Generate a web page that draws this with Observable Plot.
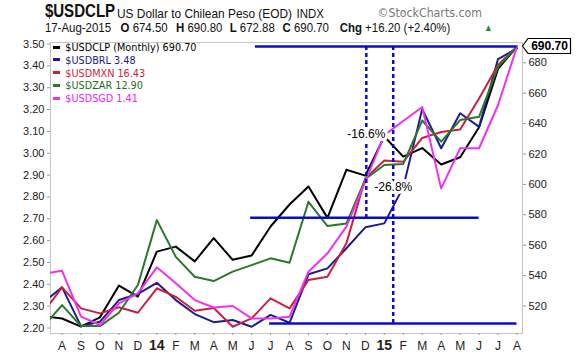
<!DOCTYPE html>
<html><head><meta charset="utf-8">
<script src="https://cdn.jsdelivr.net/npm/d3@7"></script>
<script src="https://cdn.jsdelivr.net/npm/@observablehq/plot@0.6"></script>
<style>
body{margin:0;background:#fff;}
#wrap{position:relative;width:576px;height:356px;overflow:hidden;font-family:"Liberation Sans",Arial,sans-serif;color:#111;}
#chart{position:absolute;left:0;top:0;}
#head{position:absolute;left:0;top:0;width:655px;height:40px;transform:scaleX(0.88);transform-origin:0 0;}
.t{position:absolute;white-space:nowrap;line-height:1;}
#ttl{transform:scaleX(0.95);transform-origin:0 0;}
#legend{position:absolute;left:53px;top:42px;transform:scaleX(0.88);transform-origin:0 0;font-family:"DejaVu Sans",Verdana,sans-serif;font-size:11px;}
.lg{position:absolute;white-space:nowrap;line-height:1;}
.lg i{display:inline-block;width:8px;height:3px;margin-right:6px;vertical-align:middle;position:relative;top:-1px;}
</style></head><body>
<div id="wrap">
  <div id="chart"></div>
  <div id="head">
    <div id="ttl" class="t" style="left:51px;top:2px;font-size:18px;font-weight:bold;">$USDCLP</div>
    <div class="t" style="left:133px;top:7px;font-size:13.5px;">US Dollar to Chilean Peso (EOD)</div>
    <div class="t" style="left:337px;top:7px;font-size:13px;">INDX</div>
    <div class="t" style="left:429px;top:7px;font-size:12.5px;color:#777;font-family:'DejaVu Sans',sans-serif;">©StockCharts.com</div>
    <div class="t" style="left:51px;top:21px;font-size:13px;">17-Aug-2015</div>
    <div class="t" style="left:137px;top:21px;font-size:13px;"><b>O</b> 674.50</div>
    <div class="t" style="left:200px;top:21px;font-size:13px;"><b>H</b> 690.80</div>
    <div class="t" style="left:261px;top:21px;font-size:13px;"><b>L</b> 672.88</div>
    <div class="t" style="left:321px;top:21px;font-size:13px;"><b>C</b> 690.70</div>
    <div class="t" style="left:386px;top:21px;font-size:13px;"><b>Chg</b> +16.20 (+2.40%)</div>
    <div class="t" style="left:550px;top:22.5px;font-size:10px;color:#1a8a3a;">▲</div>
  </div>
  <div id="legend"></div>
</div>
<script>
// month index 0 = Jul 2013 ... 25 = Aug 2015
const monthLabels = ["J","A","S","O","N","D","14","F","M","A","M","J","J","A","S","O","N","D","15","F","M","A","M","J","J","A"];
const yearTickIdx = [6, 18];
const monthTickIdx = d3.range(1, 26).filter(i => !yearTickIdx.includes(i));

// $USDCLP monthly closes (right axis, CLP)
const clpClose = [513.4, 511.8, 506.5, 512.6, 533.5, 526.2, 555.8, 559.1, 549.4, 564.7, 550.4, 553.2, 572.3, 586.8, 598.6, 578.0, 609.6, 605.8, 631.5, 618.3, 623.9, 613.1, 617.9, 637.6, 676.0, 690.70];
// $USDBRL (left axis)
const brl = [2.317, 2.386, 2.209, 2.229, 2.328, 2.356, 2.407, 2.328, 2.264, 2.227, 2.237, 2.206, 2.260, 2.224, 2.446, 2.473, 2.565, 2.661, 2.679, 2.845, 3.202, 3.023, 3.183, 3.121, 3.431, 3.48];
// overlays, as read against the left axis
const mxnLeft = [2.271, 2.386, 2.290, 2.267, 2.295, 2.270, 2.382, 2.343, 2.279, 2.292, 2.206, 2.244, 2.336, 2.290, 2.420, 2.435, 2.588, 2.885, 2.967, 2.961, 3.070, 3.097, 3.109, 3.251, 3.404, 3.488];
const zarLeft = [2.205, 2.305, 2.209, 2.209, 2.270, 2.397, 2.694, 2.526, 2.435, 2.415, 2.458, 2.488, 2.519, 2.499, 2.778, 2.667, 2.679, 2.882, 2.946, 2.951, 3.150, 3.053, 3.152, 3.167, 3.396, 3.488];
const sgdLeft = [2.448, 2.462, 2.252, 2.214, 2.313, 2.359, 2.478, 2.405, 2.328, 2.294, 2.301, 2.244, 2.244, 2.252, 2.458, 2.542, 2.664, 2.870, 3.083, 3.148, 3.212, 2.839, 3.023, 3.023, 3.221, 3.488];

const legendText = ["$USDCLP (Monthly) 690.70", "$USDBRL 3.48", "$USDMXN 16.43", "$USDZAR 12.90", "$USDSGD 1.41"];
const seriesColors = ["#000000", "#1c1c8c", "#cc1f40", "#2a782a", "#f032f0"];
const legendTextColors = ["#000000", "#1c1c8c", "#cc1f40", "#227022", "#ee22ee"];

const leftTicks = d3.range(22, 36).map(v => v / 10);
const rightTicks = d3.range(520, 681, 20);
// calibration between right (CLP) and left axis
const clpAnchors = [520, 690.7];
const leftAnchors = [2.3007, 3.4886];
const clpToLeft = d3.scaleLinear().domain(clpAnchors).range(leftAnchors);

// annotations (CLP levels)
const annotLevelsClp = [690.70, 578, 508.5];
const annotHSpan = [[11.2, 25], [10.95, 23], [11.95, 25]];
const annotVX = [17.05, 18.47];
const annotLabels = ["-16.6%", "-26.8%"];

const toRows = arr => arr.map((v, i) => ({i, v}));
const clpRows = clpClose.map((c, i) => ({i, v: clpToLeft(c)}));

const hLines = annotLevelsClp.map((c, k) => ({y: clpToLeft(c), x1: annotHSpan[k][0], x2: annotHSpan[k][1]}));
const vLines = annotVX.map((x, k) => ({x, y1: clpToLeft(annotLevelsClp[0]), y2: clpToLeft(annotLevelsClp[k + 1])}));
const vLabels = annotVX.map((x, k) => ({x, y: (clpToLeft(annotLevelsClp[0]) + clpToLeft(annotLevelsClp[k + 1])) / 2, t: annotLabels[k]}));

const blue = "#0b0bcc";
const lineOpts = {x: "i", y: "v", strokeWidth: 2, clip: true, curve: "linear"};

const lastClp = clpClose[clpClose.length - 1];
function closeBox(index, scales, values, dimensions) {
  const y = scales.y(clpToLeft(lastClp));
  const x0 = dimensions.width - dimensions.marginRight;
  const g = d3.create("svg:g");
  g.append("path")
    .attr("d", `M${x0 + 0.5},${y} L${x0 + 6},${y - 7.5} H${x0 + 48.5} V${y + 7.5} H${x0 + 6} Z`)
    .attr("fill", "white").attr("stroke", "#000").attr("stroke-width", 1.2);
  g.append("text").attr("x", x0 + 27.5).attr("y", y).attr("dy", "0.36em")
    .attr("text-anchor", "middle").attr("font-weight", "bold").attr("font-size", 12)
    .attr("font-family", "Liberation Sans, Arial, sans-serif").attr("fill", "#000")
    .text(d3.format(".2f")(lastClp));
  return g.node();
}

const chart = Plot.plot({
  width: 576, height: 356,
  marginLeft: 50, marginRight: 54, marginTop: 42, marginBottom: 23,
  x: {type: "linear", domain: [0.39, 25.29]},
  y: {type: "linear", domain: [2.175, 3.507]},
  style: {fontFamily: "Liberation Sans, Arial, sans-serif", background: "transparent", color: "#222"},
  marks: [
    Plot.frame({stroke: "#c4c4c4"}),
    Plot.axisY({anchor: "left", ticks: leftTicks, tickFormat: d3.format(".2f"), tickSize: 3, tickPadding: 3, fontSize: 11, label: null, stroke: "#999"}),
    Plot.axisY({anchor: "right", ticks: rightTicks.map(c => clpToLeft(c)), tickFormat: d => String(Math.round(clpToLeft.invert(d))), tickSize: 3, tickPadding: 3, fontSize: 11, label: null, stroke: "#999"}),
    Plot.axisX({anchor: "bottom", ticks: monthTickIdx, tickFormat: i => monthLabels[i], tickSize: 2, tickPadding: 6, fontSize: 12, label: null, stroke: "#999"}),
    Plot.axisX({anchor: "bottom", ticks: yearTickIdx, tickFormat: i => monthLabels[i], tickSize: 2, tickPadding: 5, fontSize: 14, fontWeight: "bold", label: null, stroke: "#999"}),
    Plot.line(clpRows, {...lineOpts, stroke: seriesColors[0]}),
    Plot.line(toRows(brl), {...lineOpts, stroke: seriesColors[1]}),
    Plot.line(toRows(mxnLeft), {...lineOpts, stroke: seriesColors[2]}),
    Plot.line(toRows(zarLeft), {...lineOpts, stroke: seriesColors[3]}),
    Plot.line(toRows(sgdLeft), {...lineOpts, stroke: seriesColors[4]}),
    Plot.ruleY(hLines, {y: "y", x1: "x1", x2: "x2", stroke: blue, strokeWidth: 2.5}),
    Plot.ruleX(vLines, {x: "x", y1: "y1", y2: "y2", stroke: blue, strokeWidth: 2.5, strokeDasharray: "4,3"}),
    Plot.text(vLabels, {x: "x", y: "y", text: "t", fontSize: 12, fill: "#000", stroke: "white", strokeWidth: 6, dy: 2}),
    closeBox
  ]
});
document.getElementById("chart").appendChild(chart);

// legend
const lg = document.getElementById("legend");
legendText.forEach((t, k) => {
  const d = document.createElement("div");
  d.className = "lg";
  d.style.left = "0px";
  d.style.top = (k * 12.8) + "px";
  d.style.color = legendTextColors[k];
  d.innerHTML = `<i style="background:${seriesColors[k]}"></i>`;
  d.appendChild(document.createTextNode(t));
  lg.appendChild(d);
});
</script>
</body></html>
